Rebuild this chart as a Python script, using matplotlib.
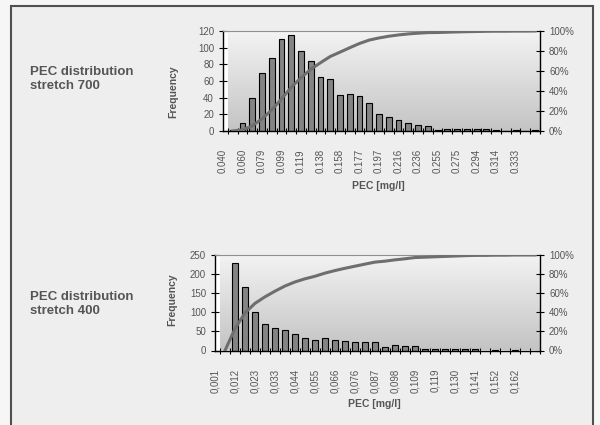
import numpy as np
import matplotlib.pyplot as plt
from matplotlib.patches import Rectangle
from matplotlib.ticker import PercentFormatter
from matplotlib.colors import LinearSegmentedColormap

plt.rcParams['font.family'] = ['Liberation Sans', 'DejaVu Sans']

# stretch 700
labels_700 = ['0.040', '0.060', '0.079', '0.099', '0.119', '0.138', '0.158', '0.177',
              '0.197', '0.216', '0.236', '0.255', '0.275', '0.294', '0.314', '0.333']
freq_700 = [1, 10, 40, 70, 88, 110, 115, 96, 84, 65, 62, 43, 44, 42, 34, 21,
            17, 13, 10, 7, 6, 1, 3, 3, 2, 2, 2, 1, 0, 1, 0, 1]

# stretch 400
labels_400 = ['0,001', '0,012', '0,023', '0,033', '0,044', '0,055', '0,066', '0,076',
              '0,087', '0,098', '0,109', '0,119', '0,130', '0,141', '0,152', '0,162']
freq_400 = [0, 230, 167, 100, 69, 60, 54, 43, 33, 27, 33, 27, 24, 22, 22, 21,
            10, 14, 11, 13, 4, 4, 4, 4, 4, 3, 0, 2, 0, 2, 0, 0]

txt = '#555555'
fig = plt.figure(figsize=(6, 4.25), dpi=100)
fig.patch.set_facecolor('#f6f6f6')
fig.patches.append(Rectangle((11 / 600, -0.05), 582 / 600, 1.05 - 6 / 425,
                             transform=fig.transFigure, facecolor='#eeeeee',
                             edgecolor='#505050', lw=1.5, zorder=-10))

grad = np.linspace(0, 1, 100).reshape(-1, 1)
cmap = LinearSegmentedColormap.from_list('g', ['#c4c4c4', '#f3f3f3'])


def histo(rect, freq, labels, ymax, ystep):
    ax = fig.add_axes(rect)
    n = len(freq)
    x = np.arange(n)
    ax.imshow(grad, extent=(-0.5, n - 0.5, 0, ymax), aspect='auto',
              cmap=cmap, origin='lower', zorder=0)
    ax.set_xlim(-0.5, n - 0.5)
    ax.set_ylim(0, ymax)
    ax.bar(x, freq, width=0.6, color='#848484', edgecolor='black', lw=0.8, zorder=2)
    ax.set_yticks(np.arange(0, ymax + 1, ystep))
    ax.set_xticks(np.arange(n + 1) - 0.5)
    ax.set_xticklabels([])
    ax.set_xticks(np.arange(0, n, 2) - 1.0, minor=True)
    ax.set_xticklabels(labels, minor=True, rotation=90)
    ax.tick_params(axis='x', which='minor', length=0, pad=13, labelsize=7, labelcolor=txt)
    ax.tick_params(axis='x', which='major', direction='inout', length=5, width=0.8)
    ax.tick_params(axis='y', direction='inout', length=6, width=0.8, labelsize=7, labelcolor=txt)
    for s in ['left', 'bottom']:
        ax.spines[s].set_linewidth(1.0)
    ax.spines['top'].set_color('#909090')
    ax.spines['right'].set_visible(False)

    ax2 = ax.twinx()
    cum = np.cumsum(freq) / np.sum(freq)
    ax2.plot(x, cum, color='#6e6e6e', lw=2.2, zorder=3)
    ax2.set_ylim(0, 1)
    ax2.set_yticks(np.arange(0, 1.01, 0.2))
    ax2.yaxis.set_major_formatter(PercentFormatter(1.0, decimals=0))
    ax2.tick_params(axis='y', direction='inout', length=6, width=0.8, labelsize=7, labelcolor=txt)
    ax2.spines['right'].set_linewidth(1.0)
    for s in ['top', 'left', 'bottom']:
        ax2.spines[s].set_visible(False)
    return ax


histo([223 / 600, 1 - 131 / 425, 317 / 600, 100 / 425], freq_700, labels_700, 120, 20)
histo([215 / 600, 1 - 350.5 / 425, 325 / 600, 95.5 / 425], freq_400, labels_400, 250, 50)

fig.text(30 / 600, 1 - 79 / 425, 'PEC distribution\nstretch 700', fontsize=9.5,
         fontweight='bold', color=txt, va='center', ha='left', linespacing=1.15)
fig.text(30 / 600, 1 - 304 / 425, 'PEC distribution\nstretch 400', fontsize=9.5,
         fontweight='bold', color=txt, va='center', ha='left', linespacing=1.15)
fig.text(173 / 600, 1 - 92 / 425, 'Frequency', fontsize=7.5, fontweight='bold',
         color=txt, rotation=90, ha='center', va='center')
fig.text(172 / 600, 1 - 300 / 425, 'Frequency', fontsize=7.5, fontweight='bold',
         color=txt, rotation=90, ha='center', va='center')
fig.text(378 / 600, 1 - 186 / 425, 'PEC [mg/l]', fontsize=7.5, fontweight='bold',
         color=txt, ha='center', va='center')
fig.text(374 / 600, 1 - 404 / 425, 'PEC [mg/l]', fontsize=7.5, fontweight='bold',
         color=txt, ha='center', va='center')

fig.savefig('out.png', dpi=100, facecolor=fig.get_facecolor())
